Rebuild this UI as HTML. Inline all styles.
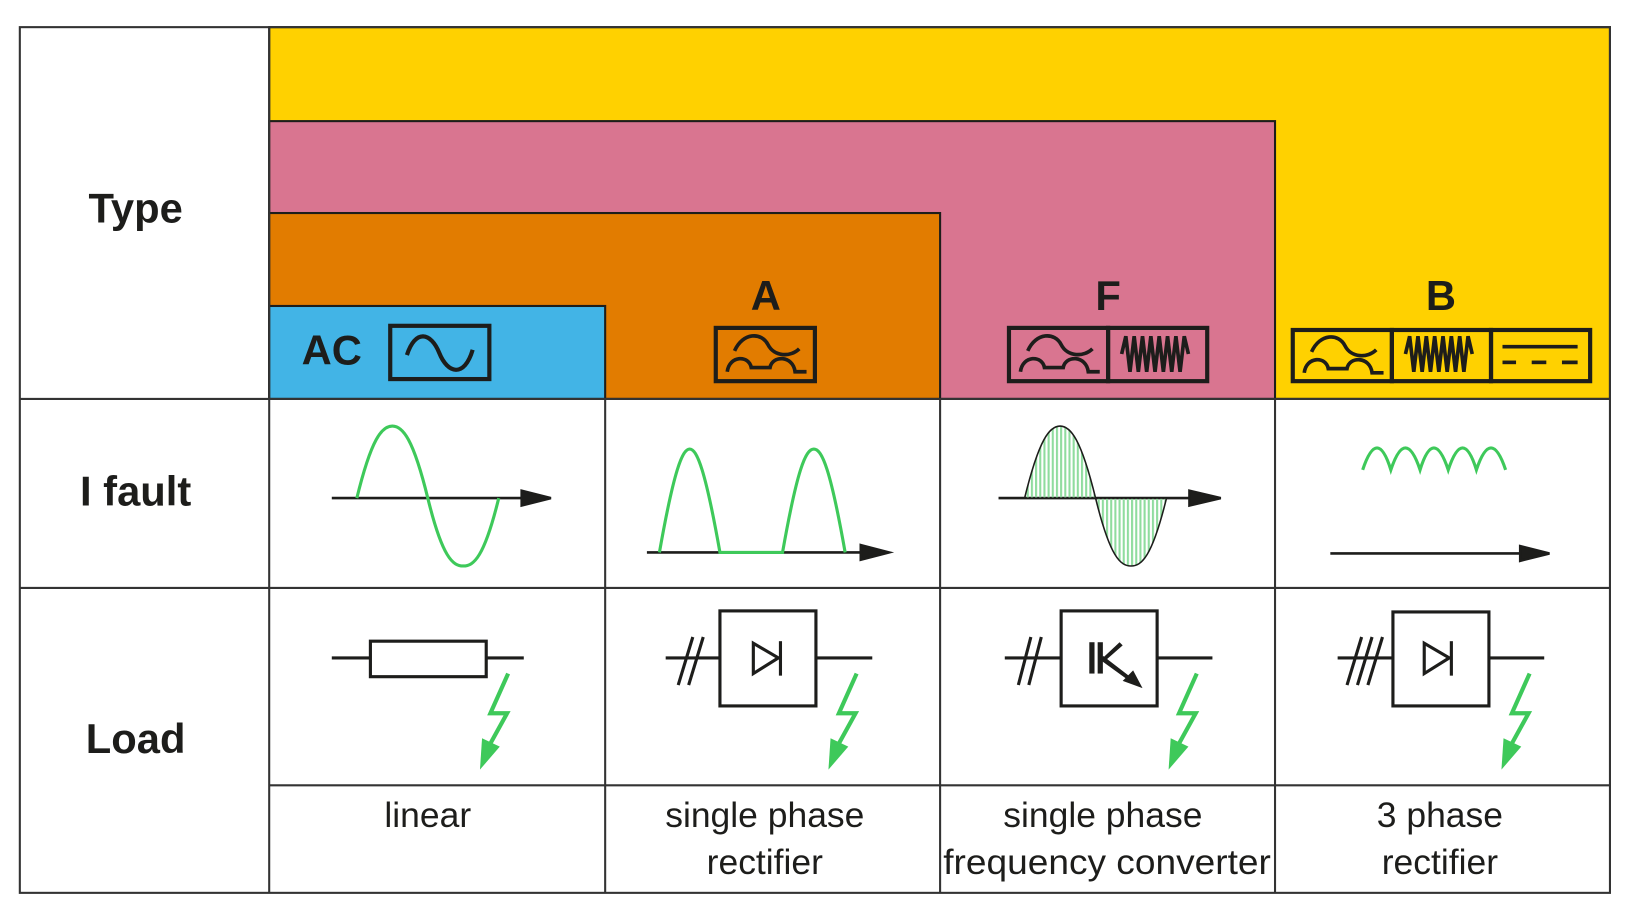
<!DOCTYPE html>
<html><head><style>
html,body{margin:0;padding:0;background:#fff;}
svg{display:block;}
text{font-family:"Liberation Sans",Arial,sans-serif;fill:#1d1d1b;}
</style></head><body>
<svg width="1635" height="920" viewBox="0 0 1567 881" preserveAspectRatio="none" xmlns="http://www.w3.org/2000/svg">
<defs>
<pattern id="h" width="4" height="10" patternUnits="userSpaceOnUse"><rect x="0" y="0" width="2" height="10" fill="#8fdc9e"/></pattern>
<g id="bolt"><polyline points="0,0 -17,38 -1,38 -17,67" fill="none" stroke="#3ec95a" stroke-width="4"/><polygon points="-27,92 -25,62 -8,70" fill="#3ec95a"/></g>
</defs>
<rect x="258" y="26" width="1285" height="356" fill="#ffd100" stroke="#1d1d1b" stroke-width="2"/>
<rect x="258" y="116" width="964" height="266" fill="#d97590" stroke="#1d1d1b" stroke-width="2"/>
<rect x="258" y="204" width="643" height="178" fill="#e27c00" stroke="#1d1d1b" stroke-width="2"/>
<rect x="258" y="293" width="322" height="89" fill="#42b4e6" stroke="#1d1d1b" stroke-width="2"/>
<g stroke="#333" stroke-width="2" fill="none">
<rect x="19" y="26" width="1524" height="829"/>
<line x1="258" y1="26" x2="258" y2="855"/>
<line x1="580" y1="382" x2="580" y2="855"/>
<line x1="901" y1="382" x2="901" y2="855"/>
<line x1="1222" y1="382" x2="1222" y2="855"/>
<line x1="19" y1="382" x2="1543" y2="382"/>
<line x1="19" y1="563" x2="1543" y2="563"/>
<line x1="258" y1="752" x2="1543" y2="752"/>
</g>
<text x="130" y="213" font-size="40" font-weight="bold" text-anchor="middle">Type</text>
<text x="130" y="484" font-size="40" font-weight="bold" text-anchor="middle">I fault</text>
<text x="130" y="721" font-size="40" font-weight="bold" text-anchor="middle">Load</text>
<text x="318" y="349" font-size="40" font-weight="bold" text-anchor="middle">AC</text>
<text x="734" y="297" font-size="40" font-weight="bold" text-anchor="middle">A</text>
<text x="1062" y="297" font-size="40" font-weight="bold" text-anchor="middle">F</text>
<text x="1381" y="297" font-size="40" font-weight="bold" text-anchor="middle">B</text>
<g stroke="#1d1d1b" stroke-width="4" fill="none">
<rect x="374" y="312" width="95" height="51"/>
<path d="M390,340 C398,315 413,318 421,338 C429,358 445,362 453,335"/>
<rect x="686" y="314" width="95" height="51"/>
<rect x="967" y="314" width="95" height="51"/><rect x="1062" y="314" width="95" height="51"/>
<rect x="1239" y="316" width="95" height="49"/><rect x="1334" y="316" width="95" height="49"/><rect x="1429" y="316" width="95" height="49"/>
</g>
<g stroke="#1d1d1b" stroke-width="3.5" fill="none">
<path d="M697,356 C699,340 718,340 720,352 L738,352 C740,340 760,340 762,356 L773,356"/>
<path d="M704,336 C712,318 730,318 736,330 C742,342 758,342 766,334"/>
<path d="M978,356 C980,340 999,340 1001,352 L1019,352 C1021,340 1041,340 1043,356 L1054,356"/>
<path d="M985,336 C993,318 1011,318 1017,330 C1023,342 1039,342 1047,334"/>
<path d="M1250,357 C1252,341 1271,341 1273,353 L1291,353 C1293,341 1313,341 1315,357 L1326,357"/>
<path d="M1257,337 C1265,319 1283,319 1289,331 C1295,343 1311,343 1319,335"/>
<path d="M1075,339 L1079,322 L1083,356 L1087,322 L1091,356 L1095,322 L1099,356 L1103,322 L1107,356 L1111,322 L1115,356 L1119,322 L1123,356 L1127,322 L1131,356 L1135,322 L1139,339"/>
<path d="M1347,339 L1351,322 L1355,356 L1359,322 L1363,356 L1367,322 L1371,356 L1375,322 L1379,356 L1383,322 L1387,356 L1391,322 L1395,356 L1399,322 L1403,356 L1407,322 L1411,339"/>
<line x1="1440" y1="332" x2="1512" y2="332"/>
<line x1="1440" y1="347" x2="1453" y2="347"/><line x1="1468" y1="347" x2="1482" y2="347"/><line x1="1497" y1="347" x2="1512" y2="347"/>
</g>
<g stroke="#1d1d1b" stroke-width="2.5" fill="#1d1d1b">
<line x1="318" y1="477" x2="505" y2="477"/><polygon points="500,470 528,477 500,484"/>
<line x1="620" y1="529" x2="830" y2="529"/><polygon points="825,522 852,529 825,536"/>
<line x1="957" y1="477" x2="1145" y2="477"/><polygon points="1140,470 1170,477 1140,484"/>
<line x1="1275" y1="530" x2="1462" y2="530"/><polygon points="1457,523 1485,530 1457,537"/>
</g>
<g fill="none" stroke="#3ec95a" stroke-width="3">
<path d="M342,477 C356,420 366,408 376,408 C386,408 396,420 410,477 C424,534 434,542 444,542 C454,542 464,534 478,477"/>
<path d="M632,529 C646,450 654,430 661,430 C668,430 676,450 690,529 L750,529 C764,450 772,430 780,430 C788,430 796,450 810,529"/>
<path d="M1306,450 Q1320,408 1333,450 Q1347,408 1361,450 Q1374,408 1388,450 Q1402,408 1415,450 Q1429,408 1443,450"/>
</g>
<path d="M982,477 C996,420 1006,408 1016,408 C1026,408 1036,420 1050,477 C1064,534 1074,542 1084,542 C1094,542 1104,534 1118,477 Z" fill="url(#h)" stroke="#1d1d1b" stroke-width="1.5"/>
<g stroke="#1d1d1b" stroke-width="3" fill="none">
<line x1="318" y1="630" x2="355" y2="630"/><rect x="355" y="614" width="111" height="34"/><line x1="466" y1="630" x2="502" y2="630"/>
<line x1="638" y1="630" x2="690" y2="630"/><rect x="690" y="585" width="92" height="91"/><line x1="782" y1="630" x2="836" y2="630"/>
<line x1="664" y1="610" x2="650" y2="656"/><line x1="674" y1="610" x2="660" y2="656"/>
<polygon points="722,616 722,645 746,630" /><line x1="748" y1="614" x2="748" y2="647"/>
<line x1="963" y1="630" x2="1017" y2="630"/><rect x="1017" y="585" width="92" height="91"/><line x1="1109" y1="630" x2="1162" y2="630"/>
<line x1="988" y1="610" x2="976" y2="656"/><line x1="998" y1="610" x2="986" y2="656"/>
<line x1="1282" y1="630" x2="1335" y2="630"/><rect x="1335" y="586" width="92" height="90"/><line x1="1427" y1="630" x2="1480" y2="630"/>
<line x1="1305" y1="610" x2="1291" y2="656"/><line x1="1315" y1="610" x2="1301" y2="656"/><line x1="1325" y1="610" x2="1311" y2="656"/>
<polygon points="1365,616 1365,645 1389,630"/><line x1="1391" y1="614" x2="1391" y2="647"/>
</g>
<g fill="#1d1d1b">
<rect x="1044" y="615" width="5" height="30"/><rect x="1052" y="615" width="5" height="30"/>
<polygon points="1057,630 1073,615 1076,618 1060,632"/>
<polygon points="1057,628 1083,648 1081,651 1056,633"/>
<polygon points="1095,659 1076,652 1086,642"/>
</g>
<use href="#bolt" x="487" y="645"/>
<use href="#bolt" x="821" y="645"/>
<use href="#bolt" x="1147" y="645"/>
<use href="#bolt" x="1466" y="645"/>
<g font-size="34" text-anchor="middle">
<text x="410" y="792">linear</text>
<text x="733" y="792">single phase</text><text x="733" y="837">rectifier</text>
<text x="1057" y="792">single phase</text><text x="1061" y="837" textLength="314" lengthAdjust="spacingAndGlyphs">frequency converter</text>
<text x="1380" y="792">3 phase</text><text x="1380" y="837">rectifier</text>
</g>
</svg>
</body></html>
